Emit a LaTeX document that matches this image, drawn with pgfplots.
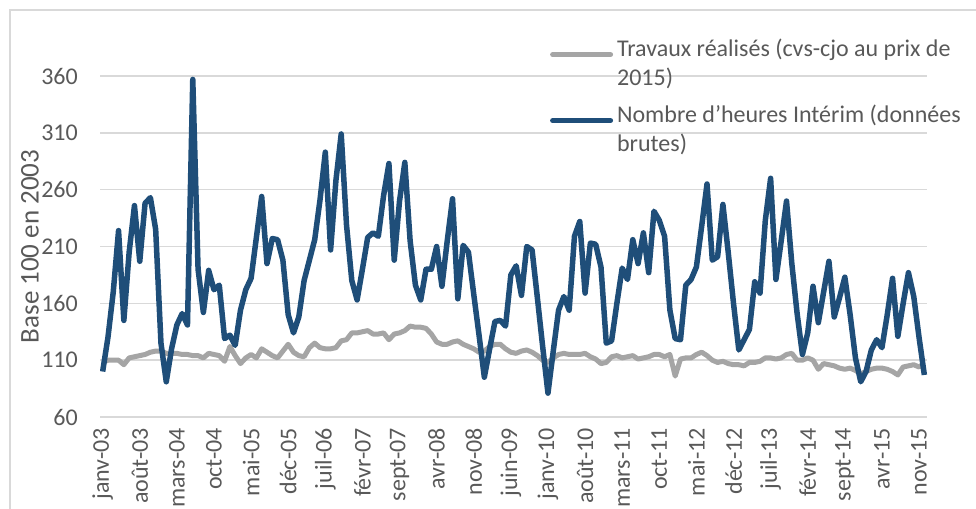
\documentclass[border=0pt]{standalone}
\usepackage{fontspec}
\setmainfont{Carlito}
\usepackage{pgfplots}
\pgfplotsset{compat=1.18}
\usepackage{pgfplotstable}

\definecolor{interim}{HTML}{1F4E79}
\definecolor{travaux}{HTML}{A5A5A5}
\definecolor{grille}{HTML}{D9D9D9}
\definecolor{texte}{HTML}{595959}

% i = mois depuis janv-03 ; trav = travaux realises ; interim = heures interim
\pgfplotstableread{
i trav interim
0 108 100
1 110 130
2 110 170
3 110 224
4 106 145
5 112 205
6 113 246
7 114 197
8 115 248
9 117 253
10 118 225
11 118 125
12 116 91
13 116 120
14 116 141
15 115 151
16 115 141
17 114 357
18 114 190
19 112 152
20 116 189
21 115 172
22 114 176
23 109 129
24 122 132
25 114 123
26 107 154
27 112 172
28 115 182
29 112 218
30 120 254
31 117 195
32 114 217
33 112 216
34 118 198
35 124 150
36 117 134
37 114 148
38 113 180
39 121 198
40 125 216
41 121 251
42 120 293
43 120 207
44 121 268
45 127 309
46 128 229
47 134 180
48 134 163
49 135 190
50 136 218
51 133 222
52 133 219
53 134 255
54 128 283
55 133 198
56 134 250
57 136 284
58 140 215
59 139 176
60 139 163
61 138 190
62 133 190
63 126 210
64 124 175
65 124 215
66 126 252
67 127 164
68 124 211
69 122 205
70 120 168
71 117 132
72 118 95
73 122 120
74 124 144
75 124 145
76 120 140
77 117 185
78 116 193
79 118 167
80 119 210
81 117 207
82 114 165
83 110 122
84 108 81
85 112 118
86 115 154
87 116 166
88 115 154
89 115 219
90 115 232
91 116 169
92 113 213
93 111 212
94 107 192
95 108 125
96 113 127
97 114 160
98 112 191
99 113 181
100 114 216
101 111 195
102 112 222
103 113 187
104 115 241
105 115 233
106 113 219
107 115 154
108 96 129
109 111 128
110 112 176
111 112 181
112 115 192
113 117 228
114 114 265
115 110 198
116 108 201
117 109 247
118 107 205
119 106 160
120 106 119
121 105 128
122 108 137
123 108 179
124 109 169
125 112 233
126 112 270
127 111 181
128 112 215
129 115 250
130 116 195
131 110 151
132 110 115
133 112 134
134 110 175
135 102 143
136 107 170
137 106 197
138 105 148
139 103 165
140 102 183
141 103 150
142 101 112
143 98 91
144 100 100
145 102 119
146 103 128
147 103 121
148 102 150
149 100 182
150 97 131
151 104 160
152 105 187
153 106 166
154 104 130
155 107 97
}\donnees

\newcommand{\police}{\fontsize{24bp}{29bp}\selectfont}

\begin{document}
\begin{tikzpicture}
\useasboundingbox (0bp,0bp) rectangle (976bp,-509bp);
\draw[grille, line width=1.5bp] (10bp,-600bp) -- (10bp,-10bp) -- (1000bp,-10bp);
\begin{axis}[
    at={(100bp,-417bp)}, anchor=south west,
    width=827bp, height=341bp, scale only axis,
    xmin=-0.5, xmax=155.5,
    ymin=60, ymax=360,
    axis line style={draw=none},
    tick style={draw=none},
    ytick={60,110,...,360},
    xtick={0,7,...,154},
    xticklabels={janv-03,août-03,mars-04,oct-04,mai-05,déc-05,juil-06,févr-07,sept-07,avr-08,nov-08,juin-09,janv-10,août-10,mars-11,oct-11,mai-12,déc-12,juil-13,févr-14,sept-14,avr-15,nov-15},
    ymajorgrids,
    grid style={grille, line width=1.5bp},
    /pgf/number format/assume math mode=true,
    tick label style={font=\police, text=texte, inner sep=0pt},
    yticklabel style={anchor=east},
    yticklabel shift=22bp,
    xticklabel style={rotate=90, anchor=east},
    xticklabel shift=11bp,
    ylabel={Base 100 en 2003},
    ylabel style={at={(axis description cs:-0.0846,0.5)}, anchor=center, rotate=0,
        font=\fontsize{27bp}{32bp}\selectfont, text=texte},
    legend cell align=left,
    legend style={at={(axis description cs:0.544,1.116)}, anchor=north west,
        draw=none, fill=none, font=\police, text=texte,
        inner sep=0pt, row sep=14bp, column sep=2bp,
        cells={align=left, inner sep=0pt}},
    legend image code/.code={\draw[#1, line width=5bp, line cap=round] (0bp,8bp) -- (58bp,8bp);},
    line join=round,
]
\addplot[travaux, line width=5bp] table[x=i, y=trav] {\donnees};
\addlegendentry{Travaux réalisés (cvs-cjo au prix de\\2015)}
\addplot[interim, line width=5.5bp] table[x=i, y=interim] {\donnees};
\addlegendentry{Nombre d\symbol{39}heures Intérim (données\\brutes)}
\end{axis}
\end{tikzpicture}
\end{document}
